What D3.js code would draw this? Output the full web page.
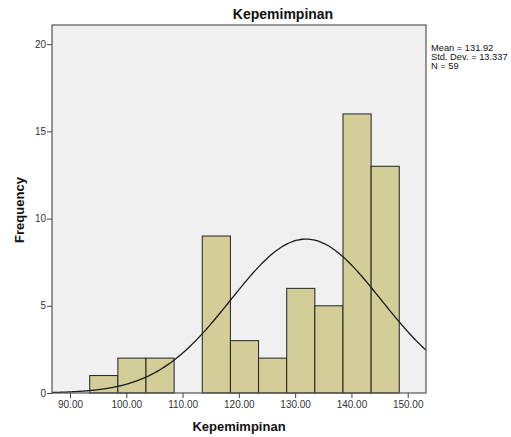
<!DOCTYPE html>
<html><head><meta charset="utf-8">
<script src="https://cdn.jsdelivr.net/npm/d3@7"></script>
<style>body{margin:0;background:#fff;} svg{display:block;font-family:"Liberation Sans",Arial,sans-serif;}</style>
</head><body>
<script>
const binStarts = [93.5, 98.5, 103.5, 108.5, 113.5, 118.5, 123.5, 128.5, 133.5, 138.5, 143.5];
const counts    = [1, 2, 2, 0, 9, 3, 2, 6, 5, 16, 13];
const binWidth = 5;
const xTicks = [90, 100, 110, 120, 130, 140, 150];
const yTicks = [0, 5, 10, 15, 20];
const statLines = ["Mean = 131.92", "Std. Dev. = 13.337", "N = 59"];
const mean = 131.92, sd = 13.337, N = 59;

const W = 511, H = 437;
const svg = d3.select("body").append("svg").attr("width", W).attr("height", H);
const L = 52, R = 426, T = 25, B = 393;
const x = d3.scaleLinear().domain([86.8, 153.25]).range([L, R]);
const y = d3.scaleLinear().domain([0, 21.1]).range([B, T]);

svg.append("rect").attr("x", L).attr("y", T).attr("width", R - L).attr("height", B - T)
  .attr("fill", "#f0f0f0");

svg.selectAll("rect.bar").data(counts.map((c, i) => ({x0: binStarts[i], c})).filter(d => d.c > 0))
  .enter().append("rect").attr("class", "bar")
  .attr("x", d => x(d.x0)).attr("width", d => x(d.x0 + binWidth) - x(d.x0))
  .attr("y", d => y(d.c)).attr("height", d => y(0) - y(d.c))
  .attr("fill", "#d3ce97").attr("stroke", "#222").attr("stroke-width", 1);

// normal curve
const pts = d3.range(0, 201).map(i => {
  const xv = 86.8 + (153.25 - 86.8) * i / 200;
  const yv = N * binWidth / (sd * Math.sqrt(2 * Math.PI)) * Math.exp(-0.5 * ((xv - mean) / sd) ** 2);
  return [xv, yv];
});
svg.append("path").datum(pts)
  .attr("d", d3.line().x(d => x(d[0])).y(d => y(d[1])).curve(d3.curveBasis))
  .attr("fill", "none").attr("stroke", "#1a1a1a").attr("stroke-width", 1.3);

// frame
svg.append("rect").attr("x", L).attr("y", T).attr("width", R - L).attr("height", B - T)
  .attr("fill", "none").attr("stroke", "#555").attr("stroke-width", 1.2);

// axes
const xAxis = svg.append("g").attr("transform", `translate(0,${B})`)
  .call(d3.axisBottom(x).tickValues(xTicks).tickFormat(d3.format(".2f")).tickSize(5).tickSizeOuter(0));
const yAxis = svg.append("g").attr("transform", `translate(${L},0)`)
  .call(d3.axisLeft(y).tickValues(yTicks).tickFormat(d3.format("d")).tickSize(5).tickSizeOuter(0));
[xAxis, yAxis].forEach(g => {
  g.select(".domain").remove();
  g.selectAll("line").attr("stroke", "#444");
  g.selectAll("text").attr("fill", "#333").style("font-size", "10px")
   .style("font-family", '"Liberation Sans",Arial,sans-serif');
});
xAxis.selectAll("text").attr("dy", "0.71em").attr("y", 8);
yAxis.selectAll("text").attr("x", -6);

svg.append("text").attr("x", 283).attr("y", 19).attr("text-anchor", "middle")
  .style("font-size", "14px").style("font-weight", "bold").attr("fill", "#111").text("Kepemimpinan");
svg.append("text").attr("x", 239).attr("y", 431).attr("text-anchor", "middle")
  .style("font-size", "13px").style("font-weight", "bold").attr("fill", "#111").text("Kepemimpinan");
svg.append("text").attr("transform", "translate(24,210) rotate(-90)").attr("text-anchor", "middle")
  .style("font-size", "13px").style("font-weight", "bold").attr("fill", "#111").text("Frequency");

svg.selectAll("text.stat").data(statLines).enter().append("text").attr("class", "stat")
  .attr("x", 431).attr("y", (d, i) => 50.5 + i * 9.3)
  .style("font-size", "9.3px").attr("fill", "#111").text(d => d);
</script>
</body></html>
